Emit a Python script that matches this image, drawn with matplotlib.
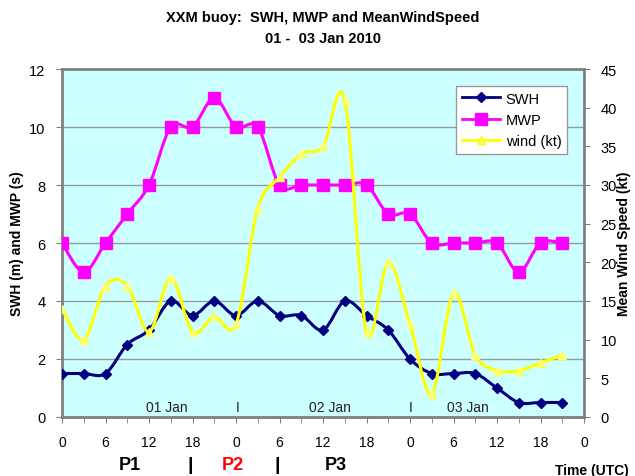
import matplotlib
matplotlib.use('Agg')
import matplotlib.pyplot as plt
from matplotlib.path import Path
from matplotlib.patches import PathPatch
from matplotlib.lines import Line2D

plt.rcParams['font.family'] = ['Liberation Sans', 'DejaVu Sans']

hours = list(range(0, 72, 3))
swh = [1.5, 1.5, 1.5, 2.5, 3.0, 4.0, 3.5, 4.0, 3.5, 4.0, 3.5, 3.5,
       3.0, 4.0, 3.5, 3.0, 2.0, 1.5, 1.5, 1.5, 1.0, 0.5, 0.5, 0.5]
mwp = [6, 5, 6, 7, 8, 10, 10, 11, 10, 10, 8, 8,
       8, 8, 8, 7, 7, 6, 6, 6, 6, 5, 6, 6]
wind = [14, 10, 17, 17, 11, 18, 11, 13, 12, 27, 31, 34,
        35, 41, 11, 20, 12, 3, 16, 8, 6, 6, 7, 8]
xtick_pos = list(range(0, 73, 6))
xtick_labels = ['0', '6', '12', '18', '0', '6', '12', '18', '0', '6', '12', '18', '0']
day_labels = [(14.5, '01 Jan'), (24.3, 'I'), (37, '02 Jan'), (48.1, 'I'), (56, '03 Jan')]

C_SWH = '#000080'
C_MWP = '#FF00FF'
C_WIND = '#FFFF00'


def smooth_path(x, y):
    verts = [(x[0], y[0])]
    codes = [Path.MOVETO]
    n = len(x)
    for i in range(n - 1):
        x0, y0 = (x[i - 1], y[i - 1]) if i > 0 else (x[i], y[i])
        x3, y3 = (x[i + 2], y[i + 2]) if i + 2 < n else (x[i + 1], y[i + 1])
        c1 = (x[i] + (x[i + 1] - x0) / 6.0, y[i] + (y[i + 1] - y0) / 6.0)
        c2 = (x[i + 1] - (x3 - x[i]) / 6.0, y[i + 1] - (y3 - y[i]) / 6.0)
        verts += [c1, c2, (x[i + 1], y[i + 1])]
        codes += [Path.CURVE4] * 3
    return Path(verts, codes)


fig = plt.figure(figsize=(6.35, 4.77), dpi=100)
ax = fig.add_axes([62 / 635, 1 - 418 / 477, 522 / 635, 348 / 477])
ax.set_facecolor('#CCFFFF')
ax.set_xlim(0, 72)
ax.set_ylim(0, 12)
ax.set_yticks(range(0, 13, 2))
ax.yaxis.grid(True, color='#999999', linewidth=1)
ax.set_axisbelow(True)
for s in ax.spines.values():
    s.set_color('#808080')
    s.set_linewidth(2)

ax.set_xticks(xtick_pos)
ax.set_xticklabels(xtick_labels)
ax.set_xticks(hours + [72], minor=True)
ax.tick_params(axis='x', which='both', direction='out', length=4, color='#808080', labelsize=10, pad=9)
ax.tick_params(axis='y', direction='out', length=4, color='#808080', labelsize=10.5, pad=8)

ax.add_patch(PathPatch(smooth_path(hours, mwp), fill=False, edgecolor=C_MWP, lw=2.2, zorder=3))
ax.plot(hours, mwp, ls='none', marker='s', ms=8, color=C_MWP, zorder=4)
ax.add_patch(PathPatch(smooth_path(hours, swh), fill=False, edgecolor=C_SWH, lw=2.2, zorder=3))
ax.plot(hours, swh, ls='none', marker='D', ms=5.5, color=C_SWH, zorder=4)

ax2 = ax.twinx()
ax2.set_ylim(0, 45)
ax2.set_yticks(range(0, 46, 5))
ax2.tick_params(axis='y', direction='out', length=4, color='#808080', labelsize=10.5, pad=8)
for s in ax2.spines.values():
    s.set_visible(False)
ax2.add_patch(PathPatch(smooth_path(hours, wind), fill=False, edgecolor=C_WIND, lw=2.2, zorder=3))
ax2.plot(hours, wind, ls='none', marker='^', ms=6, color='#FFFF66', zorder=4)

for xv, t in day_labels:
    ax.text(xv, 0.35, t, ha='center', va='center', fontsize=10, color='#222222')

handles = [Line2D([], [], color=C_SWH, lw=2, marker='D', ms=5.5),
           Line2D([], [], color=C_MWP, lw=2, marker='s', ms=8),
           Line2D([], [], color=C_WIND, lw=2, marker='^', ms=6, markerfacecolor='#FFFF66')]
leg = ax2.legend(handles, ['SWH', 'MWP', 'wind (kt)'], loc='upper right',
                 bbox_to_anchor=(0.968, 0.952), fontsize=10.5, fancybox=False,
                 framealpha=1, edgecolor='#999999', handlelength=2.6,
                 borderpad=0.4, labelspacing=0.5, handletextpad=0.4, borderaxespad=0)
leg.get_frame().set_linewidth(1)

ax.set_ylabel('SWH (m) and MWP (s)', fontsize=10, fontweight='bold', va='center')
ax.yaxis.set_label_coords((17 - 62) / 522, 0.5)
ax2.set_ylabel('Mean Wind Speed (kt)', fontsize=10, fontweight='bold', va='center')
ax2.yaxis.set_label_coords((624 - 62) / 522, 0.5)

fig.text(323 / 635, 1 - 18 / 477, 'XXM buoy:  SWH, MWP and MeanWindSpeed', ha='center', va='center',
         fontsize=10.5, fontweight='bold')
fig.text(323 / 635, 1 - 39 / 477, '01 -  03 Jan 2010', ha='center', va='center',
         fontsize=10.5, fontweight='bold')

fig.text(130 / 635, 1 - 466 / 477, 'P1', ha='center', va='center', fontsize=13, fontweight='bold')
fig.text(190 / 635, 1 - 466 / 477, '|', ha='center', va='center', fontsize=14, fontweight='bold')
fig.text(233 / 635, 1 - 466 / 477, 'P2', ha='center', va='center', fontsize=13, fontweight='bold', color='red')
fig.text(277 / 635, 1 - 466 / 477, '|', ha='center', va='center', fontsize=14, fontweight='bold')
fig.text(336 / 635, 1 - 466 / 477, 'P3', ha='center', va='center', fontsize=13, fontweight='bold')
fig.text(592 / 635, 1 - 471 / 477, 'Time (UTC)', ha='center', va='center', fontsize=10, fontweight='bold')

fig.savefig('out.png', dpi=100)
